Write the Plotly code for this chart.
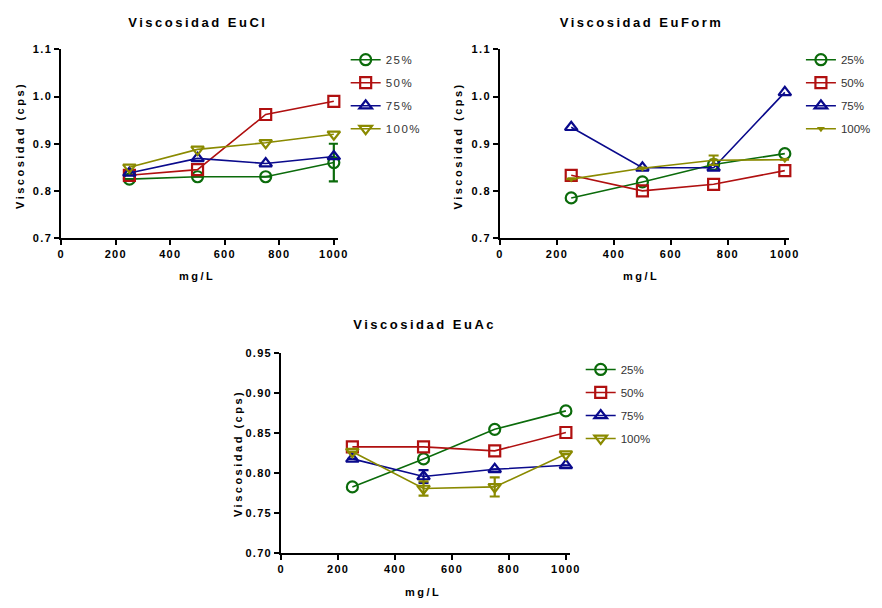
import plotly.graph_objects as go

# ---------------- data ----------------
conc = [250, 500, 750, 1000]
series_names = ["25%", "50%", "75%", "100%"]

eucl_25 = [0.825, 0.830, 0.830, 0.860]
eucl_50 = [0.833, 0.845, 0.962, 0.990]
eucl_75 = [0.838, 0.869, 0.858, 0.873]
eucl_100 = [0.850, 0.888, 0.902, 0.920]
eucl_25_err = [0, 0, 0, 0.040]

euform_25 = [0.785, 0.819, 0.856, 0.879]
euform_50 = [0.833, 0.800, 0.814, 0.843]
euform_75 = [0.935, 0.849, 0.849, 1.009]
euform_100 = [0.825, 0.848, 0.865, 0.866]
euform_100_err = [0, 0, 0.010, 0]

euac_25 = [0.783, 0.818, 0.855, 0.878]
euac_50 = [0.833, 0.833, 0.828, 0.851]
euac_75 = [0.818, 0.796, 0.805, 0.810]
euac_100 = [0.827, 0.781, 0.783, 0.824]
euac_75_err = [0, 0.008, 0, 0]
euac_100_err = [0, 0.009, 0.012, 0]

titles = ["Viscosidad EuCl", "Viscosidad EuForm", "Viscosidad EuAc"]
x_ticks = [0, 200, 400, 600, 800, 1000]

# ---------------- style ----------------
W, H = 882, 608
colors = ["#0b6b0b", "#b01010", "#0a0a8c", "#8a8a00"]
symbols = ["circle-open", "square-open", "triangle-up-open", "triangle-down-open"]
FONT = "Liberation Sans, Arial, sans-serif"
X_MAX = 1000
X_EXT = 1015  # a little room so the error-bar caps at 1000 are not clipped

def px_x(p):
    return p / W

def px_y(p):
    return 1 - p / H

panels = [
    dict(x=(59, 335), y=(44.3, 236.7), yr=[0.7, 1.1], yt=[0.7, 0.8, 0.9, 1.0, 1.1], yfmt=".1f",
         data=[eucl_25, eucl_50, eucl_75, eucl_100],
         errs=[eucl_25_err, None, None, None],
         legpos=(347, 40), title_c=(197, 17), ytitle=(17, 142), xtitle=(197, 275)),
    dict(x=(503.3, 791.7), y=(44.3, 236.7), yr=[0.7, 1.1], yt=[0.7, 0.8, 0.9, 1.0, 1.1], yfmt=".1f",
         data=[euform_25, euform_50, euform_75, euform_100],
         errs=[None, None, None, euform_100_err],
         legpos=(808, 40), title_c=(647, 17), ytitle=(461, 142), xtitle=(647, 275)),
    dict(x=(281.7, 570), y=(354.3, 558.3), yr=[0.70, 0.95], yt=[0.70, 0.75, 0.80, 0.85, 0.90, 0.95], yfmt=".2f",
         data=[euac_25, euac_50, euac_75, euac_100],
         errs=[None, None, euac_75_err, euac_100_err],
         legpos=(585, 356), title_c=(427, 325), ytitle=(238, 456), xtitle=(426, 598)),
]

fig = go.Figure()
layout = dict(
    width=W, height=H, margin=dict(l=0, r=0, t=0, b=0),
    paper_bgcolor="white", plot_bgcolor="white",
    font=dict(family=FONT, color="#222"),
    annotations=[],
)

for i, p in enumerate(panels):
    sfx = "" if i == 0 else str(i + 1)
    xa = "x" + sfx
    ya = "y" + sfx
    lg = "legend" if i == 0 else "legend" + str(i + 1)
    for j, name in enumerate(series_names):
        vals = p["data"][j]
        err = p["errs"][j]
        sym = symbols[j]
        msize = 11
        mline = 2.2
        if i == 1 and j == 3:
            sym = "triangle-down"
            msize = 7
            mline = 0
        ey = None
        if err is not None:
            ey = dict(type="data", array=[e if e else None for e in err], visible=True,
                      color=colors[j], thickness=2.2, width=5)
        fig.add_trace(go.Scatter(
            x=conc, y=vals, name=name, mode="lines+markers",
            xaxis=xa, yaxis=ya, legend=lg, legendgroup=f"g{i}{j}",
            line=dict(color=colors[j], width=1.6),
            marker=dict(symbol=sym, size=msize, color=colors[j],
                        line=dict(color=colors[j], width=mline)),
            error_y=ey, cliponaxis=False,
        ))
    axis_common = dict(showline=True, linecolor="black", linewidth=2, ticks="outside",
                       ticklen=5, tickwidth=2, tickcolor="black", showgrid=False, zeroline=False,
                       tickfont=dict(family=FONT, size=11, color="black", weight="bold"))
    x0, x1 = p["x"]
    x1_ext = x0 + (x1 - x0) * X_EXT / X_MAX
    layout["xaxis" + sfx] = dict(axis_common, domain=[px_x(x0), px_x(x1_ext)],
                                 range=[0, X_EXT], tickvals=x_ticks, anchor=ya)
    layout["yaxis" + sfx] = dict(axis_common, domain=[px_y(p["y"][1]), px_y(p["y"][0])],
                                 range=p["yr"], tickvals=p["yt"], tickformat=p["yfmt"], anchor=xa)
    layout[lg] = dict(x=px_x(p["legpos"][0]), y=px_y(p["legpos"][1]), xanchor="left", yanchor="top",
                      bgcolor="rgba(0,0,0,0)", tracegroupgap=4, itemwidth=30,
                      font=dict(family=FONT, size=11.5, color="#333"))
    layout["annotations"] += [
        dict(text=titles[i], x=px_x(p["title_c"][0]), y=px_y(p["title_c"][1]), xref="paper", yref="paper",
             showarrow=False, xanchor="center", yanchor="middle",
             font=dict(family=FONT, size=13, color="black", weight="bold")),
        dict(text="Viscosidad (cps)", x=px_x(p["ytitle"][0]), y=px_y(p["ytitle"][1]), xref="paper", yref="paper",
             showarrow=False, xanchor="center", yanchor="middle", textangle=-90,
             font=dict(family=FONT, size=11, color="black", weight="bold")),
        dict(text="mg/L", x=px_x(p["xtitle"][0]), y=px_y(p["xtitle"][1]), xref="paper", yref="paper",
             showarrow=False, xanchor="center", yanchor="middle",
             font=dict(family=FONT, size=11, color="black", weight="bold")),
    ]

fig.update_layout(**layout)

css = ("html,body{margin:0;padding:0;overflow:hidden;}"
       ".annotation-text{letter-spacing:2.5px;}"
       ".xaxislayer-above text,.yaxislayer-above text{letter-spacing:1.3px;}"
       ".legendtext{letter-spacing:1.5px;}")
post = ("var s=document.createElement('style');s.textContent=\"" + css + "\";"
        "document.head.appendChild(s);")
fig.write_html("out.html", post_script=post)
